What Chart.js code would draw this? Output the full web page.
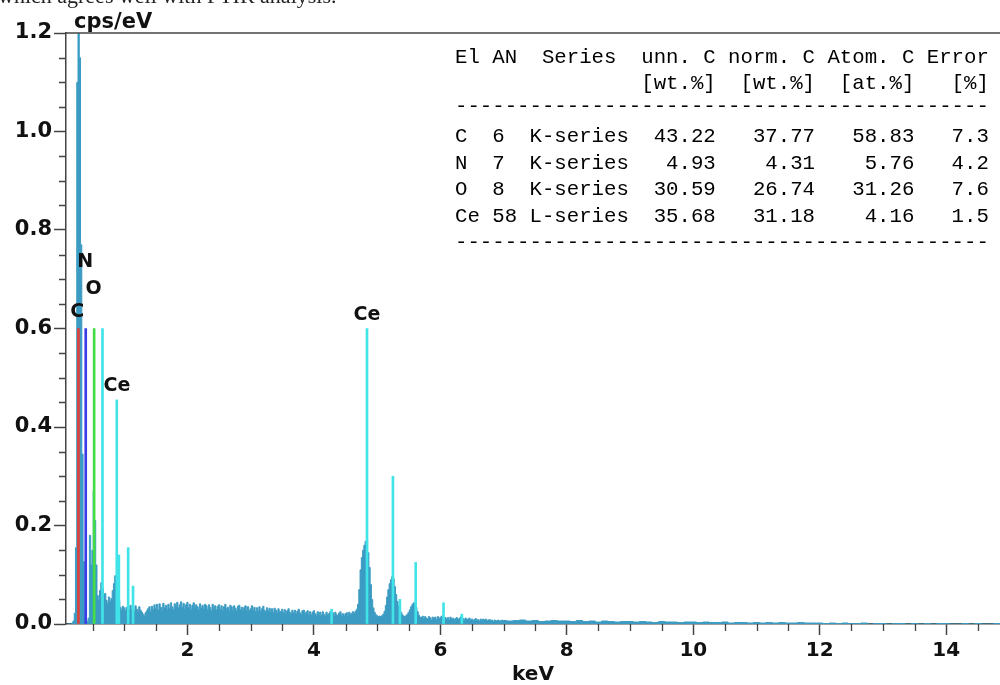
<!DOCTYPE html>
<html><head><meta charset="utf-8">
<script src="https://cdn.jsdelivr.net/npm/chart.js@4.4.1/dist/chart.umd.min.js"></script>
<style>html,body{margin:0;padding:0;background:#fff;overflow:hidden}#wrap{position:relative;width:1000px;height:685px}</style>
</head><body>
<div id="wrap"><canvas id="c" width="1000" height="685"></canvas></div>
<script>
// ---------------- DATA ----------------
// EDX spectrum, counts in 0.001 cps/eV, channels from segStart with segStep (keV)
const segA_start = 0.10, segA_step = 0.02;
const segA_counts = [
  0,0,0,0,2,6,22,155,1100,1300,
  1150,770,345,127,30,8,4,12,180,120,
  150,270,210,120,58,48,68,84,72,60,
  62,48,42,55,46,52,68,82,98,95,
  80,48,34,30,36,33,28,34,31,29,
  38,29,34,26,37,30,25,35,28,24,
  20,17,23,27,31,35,26,36,30,39,
  32,40,29,41,34,28,42,33,38,30,
  40,32,43,35,30,41,36,44,33,39,
  45,34,42,31,39,44,33,40,30,38,
  43,32,39,35,29,41,33,38,31,40,
  37,30,39,34,28,40,32,37,29,36,
  39,30,37,28,35,40,31,34,27,38,
  35,28,37,32,27,36,38,29,34,27,
  34,37,28,35,27,31,37,28,34,26,
  33,27,35,26,31,36,28,25,33,27,
  32,25,31,24,32,28,23,31,26,25,
  30,23,29,22,27,31,24,21,28,23,
  28,21,26,30,23,20,27,28,22,24,
  27,20,25,19,24,27,21,18,25,20,
  24,18,25,20,17,24,19,21,25,19,
  23,17,24,19,16,22,25,18,21,16,
  21,23,18,24,20,22,25,22,26,30,
  40,70,110,135,150,160,168,170,145,115,
  80,50,33,24,19,17,15,16,15,17,
  20,26,38,55,70,82,90,96,92,76,
  60,46,37,30,24,19,16,15,17,20,
  24,29,35,40,43,42,34,25,18,14,
  13,16,11,15,12,10,15,13,9,14,
  11,14,9,15,11,13,16,11,9,13,
  10,13,8,14,10,12,9,11,13,8,
  11,14,16,11,9,12,8,10,12,8,
  10,7,9,11,7,9,6,10,7,10,
  8,10,6,8,9,6,8,5,8,6,
  7,8,5,7,8
];
const segB_start = 7.0, segB_step = 0.1;
const segB_counts = [
  7,6,7,8,6,7,5,6,7,6,
  6,5,7,5,6,4,6,5,4,5,
  5,4,5,4,3,5,4,4,3,4,
  4,3,4,3,3,4,2,3,3,2,
  3,2,3,2,3,2,2,3,2,2,
  2,1,2,1,2,1,1,2,0,1,
  1,0,1,1,0,1,0,1,0,1,
  1,0,0,1,0,1,0,0,1,0
];

// element line markers (keV, cps/eV)
const lineE_C = [0.277];  const lineH_C = [0.60];
const lineE_N = [0.392];  const lineH_N = [0.60];
const lineE_O = [0.525];  const lineH_O = [0.60];
const lineE_Ce = [0.657, 0.883, 0.916, 1.063, 1.140, 4.28, 4.84, 5.25, 5.36, 5.61, 6.05, 6.34];
const lineH_Ce = [0.60, 0.455, 0.14, 0.155, 0.077, 0.03, 0.60, 0.30, 0.05, 0.125, 0.043, 0.02];

// marker labels (anchor in keV / cps/eV)
const labelText = ["C", "N", "O", "Ce", "Ce"];
const labelE    = [0.257, 0.384, 0.515, 0.885, 4.84];
const labelY    = [0.633, 0.734, 0.681, 0.483, 0.628];

// axis ticks
const xTickValues = [2, 4, 6, 8, 10, 12, 14];
const xTickLabels = ["2", "4", "6", "8", "10", "12", "14"];
const yTickValues = [0, 0.2, 0.4, 0.6, 0.8, 1.0, 1.2];
const yTickLabels = ["0.0", "0.2", "0.4", "0.6", "0.8", "1.0", "1.2"];
const xMin = 0.08, xMax = 14.85, yMin = 0, yMax = 1.2;
const xMinorStep = 0.5, yMinorStep = 0.05;

// quantification table
const tEl = ["C", "N", "O", "Ce"];
const tAN = [6, 7, 8, 58];
const tSeries = ["K-series", "K-series", "K-series", "L-series"];
const tUnnC = [43.22, 4.93, 30.59, 35.68];
const tNormC = [37.77, 4.31, 26.74, 31.18];
const tAtomC = [58.83, 5.76, 31.26, 4.16];
const tError = [7.3, 4.2, 7.6, 1.5];

const captionText = "which agrees well with FTIR analysis.";
const yAxisUnit = "cps/eV";
const xAxisUnit = "keV";

// ---------------- BUILD ----------------
const spectrum = [];
segA_counts.forEach((v, i) => spectrum.push({x: +(segA_start + i * segA_step).toFixed(3), y: v / 1000}));
segB_counts.forEach((v, i) => spectrum.push({x: +(segB_start + i * segB_step).toFixed(3), y: v / 1000}));
const pts = (E, H) => E.map((e, i) => ({x: e, y: H[i]}));

const axisColor = '#444';
const textColor = '#111';
const boldFont = (s) => ({family: 'DejaVu Sans', size: s, weight: 'bold', lineHeight: 1});

function markerSet(E, H, color) {
  return {type: 'bar', data: pts(E, H), backgroundColor: color, borderWidth: 0,
          barThickness: 2, grouped: false, order: 1};
}

const decor = {
  id: 'decor',
  afterDraw(chart) {
    const {ctx, chartArea: a, scales: {x, y}} = chart;
    ctx.save();
    ctx.strokeStyle = axisColor; ctx.lineWidth = 1.5;
    ctx.beginPath(); ctx.moveTo(a.left, a.top); ctx.lineTo(a.right, a.top); ctx.stroke();
    ctx.lineWidth = 1.3;
    ctx.beginPath();
    for (let k = 1; yMin + k * yMinorStep < yMax - 1e-9; k++) {
      const v = yMin + k * yMinorStep;
      if (Math.abs(v / 0.2 - Math.round(v / 0.2)) < 1e-6) continue;
      const py = Math.round(y.getPixelForValue(v)) + 0.5;
      ctx.moveTo(a.left - 7, py); ctx.lineTo(a.left, py);
    }
    for (let k = 1; k * xMinorStep < xMax; k++) {
      const v = k * xMinorStep;
      if (v < xMin || xTickValues.includes(v)) continue;
      const px = Math.round(x.getPixelForValue(v)) + 0.5;
      ctx.moveTo(px, a.bottom); ctx.lineTo(px, a.bottom + 7);
    }
    ctx.stroke();

    ctx.fillStyle = textColor;
    ctx.font = 'bold 21px "DejaVu Sans"';
    ctx.textAlign = 'left'; ctx.textBaseline = 'alphabetic';
    ctx.fillText(yAxisUnit, 74, 28);

    ctx.font = 'bold 19px "DejaVu Sans"';
    ctx.textAlign = 'center'; ctx.textBaseline = 'middle';
    labelText.forEach((t, i) => ctx.fillText(t, x.getPixelForValue(labelE[i]), y.getPixelForValue(labelY[i])));

    // table
    ctx.font = '20.7px "Liberation Mono"';
    ctx.textAlign = 'left'; ctx.textBaseline = 'alphabetic';
    ctx.fillStyle = '#000';
    const tx = 455;
    const rows = [];
    rows.push(["El AN  Series  unn. C norm. C Atom. C Error", 56]);
    rows.push(["               [wt.%]  [wt.%]  [at.%]   [%]", 82]);
    rows.push(['-'.repeat(43), 107, true]);
    const rowY = [135, 162, 188, 215];
    tEl.forEach((el, i) => {
      const s = el.padEnd(3) + String(tAN[i]).padEnd(3) + tSeries[i] +
        tUnnC[i].toFixed(2).padStart(7) + tNormC[i].toFixed(2).padStart(8) +
        tAtomC[i].toFixed(2).padStart(8) + tError[i].toFixed(1).padStart(6);
      rows.push([s, rowY[i]]);
    });
    rows.push(['-'.repeat(43), 243, true]);
    rows.forEach(([s, cy, dash]) => ctx.fillText(s, tx, dash ? cy + 5 : cy + 7));

    // cut caption at very top
    ctx.font = '22px "Liberation Serif"';
    ctx.fillStyle = '#222';
    ctx.fillText(captionText, -2, 3);
    ctx.restore();
  }
};

new Chart(document.getElementById('c'), {
  type: 'line',
  data: {
    datasets: [
      {type: 'line', data: spectrum, stepped: 'middle', fill: 'origin',
       backgroundColor: '#3b9bc3', borderColor: '#3b9bc3', borderWidth: 1,
       pointRadius: 0, order: 2},
      markerSet(lineE_C, lineH_C, '#e0403a'),
      markerSet(lineE_N, lineH_N, '#3c3ce6'),
      markerSet(lineE_O, lineH_O, '#44dc44'),
      markerSet(lineE_Ce, lineH_Ce, '#40e4e8')
    ]
  },
  options: {
    responsive: false, animation: false, devicePixelRatio: 1,
    layout: {padding: {top: 33, left: 0, right: 0, bottom: 0}},
    plugins: {legend: {display: false}, tooltip: {enabled: false}},
    scales: {
      x: {
        type: 'linear', min: xMin, max: xMax, offset: false,
        afterBuildTicks: s => { s.ticks = xTickValues.map(v => ({value: v})); },
        afterFit: s => { s.height = 61; },
        ticks: {callback: (v, i) => xTickLabels[i], font: boldFont(20), color: textColor,
                padding: 6, maxRotation: 0, autoSkip: false},
        grid: {offset: false, drawOnChartArea: false, drawTicks: true, tickLength: 11, tickColor: axisColor, tickWidth: 1.5},
        border: {display: true, color: axisColor, width: 1.5},
        title: {display: true, text: xAxisUnit, font: boldFont(20), color: textColor, padding: {top: 0, bottom: 0}}
      },
      y: {
        type: 'linear', min: yMin, max: yMax,
        afterBuildTicks: s => { s.ticks = yTickValues.map(v => ({value: v})); },
        afterFit: s => { s.width = 66; },
        ticks: {callback: (v, i) => yTickLabels[i], font: boldFont(21), color: textColor, padding: 2},
        grid: {offset: false, drawOnChartArea: false, drawTicks: true, tickLength: 12, tickColor: axisColor, tickWidth: 1.5},
        border: {display: true, color: axisColor, width: 1.5}
      }
    }
  },
  plugins: [decor]
});
</script>
</body></html>
